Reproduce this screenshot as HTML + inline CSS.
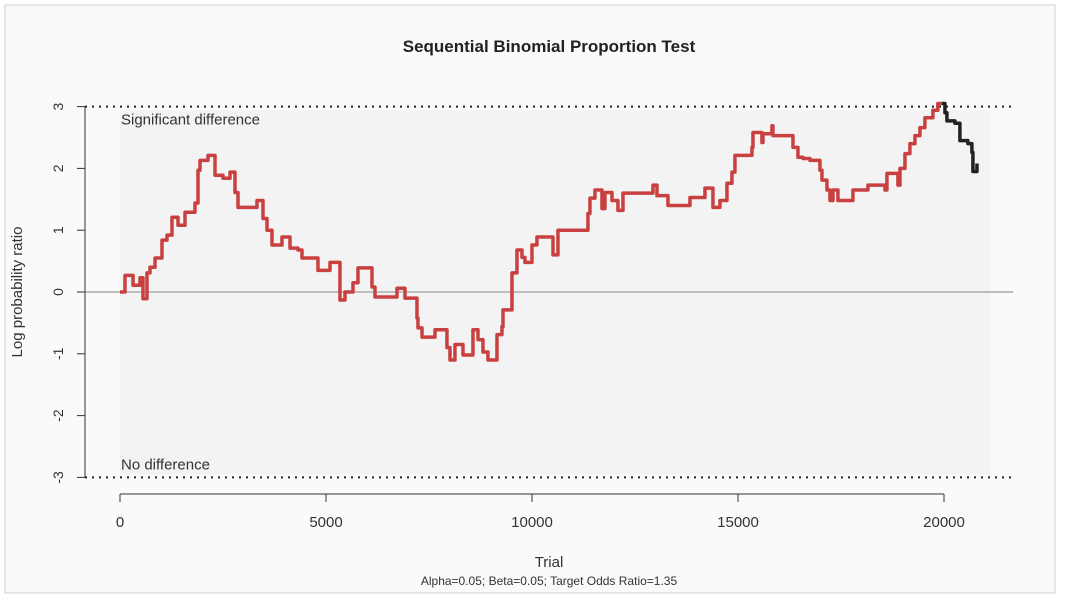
<!DOCTYPE html>
<html><head><meta charset="utf-8"><style>
body{margin:0;background:#fff;font-family:"Liberation Sans",sans-serif;}
svg{display:block}
</style></head><body>
<svg width="1068" height="606" viewBox="0 0 1068 606">
<rect x="0" y="0" width="1068" height="606" fill="#ffffff"/>
<rect x="5" y="5" width="1050" height="588" fill="#fafafa" stroke="#cfcfcf"/>
<text x="549" y="52" text-anchor="middle" font-size="17" font-weight="bold" fill="#222">Sequential Binomial Proportion Test</text>
<g id="plot"></g>
<text x="549" y="567" text-anchor="middle" font-size="15" fill="#333">Trial</text>
<text x="549" y="585" text-anchor="middle" font-size="12" fill="#333">Alpha=0.05; Beta=0.05; Target Odds Ratio=1.35</text>
<text transform="translate(22,292) rotate(-90)" text-anchor="middle" font-size="15" fill="#333">Log probability ratio</text>
</svg>
<script>
const xTicks=[0,5000,10000,15000,20000];
const yTicks=[-3,-2,-1,0,1,2,3];
const upperBound=3.0, lowerBound=-3.0;
const redTrials=[0,97,121,316,485,558,655,728,850,1019,1141,1262,1408,1578,1820,1893,1942,2136,2306,2500,2670,2791,2864,3107,3325,3471,3568,3689,3932,4126,4320,4417,4684,4805,5097,5339,5461,5655,5776,5898,6116,6189,6723,6747,6917,7208,7232,7330,7645,7936,8009,8130,8325,8567,8689,8810,8931,9150,9271,9296,9514,9635,9757,9829,9902,9999,10120,10436,10509,10630,11358,11407,11528,11698,11771,11941,12013,12086,12208,12936,13033,13300,13518,13834,14198,14392,14562,14732,14853,14926,14999,15339,15363,15581,15606,15824,15848,15970,16334,16455,16576,16746,16989,17038,17159,17232,17305,17426,17790,18154,18567,18615,18882,18931,19052,19173,19295,19416,19537,19731,19850,19950];
const redValues=[0,0,0.27,0.11,0.23,-0.11,0.31,0.40,0.55,0.84,0.92,1.21,1.08,1.29,1.44,1.97,2.13,2.21,1.89,1.84,1.94,1.61,1.37,1.37,1.48,1.19,1.0,0.76,0.89,0.71,0.68,0.55,0.55,0.35,0.48,-0.13,0,0.15,0.39,0.39,0.08,-0.08,0.06,0.06,-0.10,-0.42,-0.58,-0.73,-0.61,-0.90,-1.10,-0.85,-1.02,-0.61,-0.77,-0.97,-1.10,-0.69,-0.56,-0.29,0.31,0.68,0.56,0.48,0.48,0.76,0.89,0.89,0.60,1.0,1.27,1.52,1.65,1.35,1.61,1.48,1.48,1.32,1.60,1.73,1.56,1.40,1.40,1.53,1.68,1.37,1.48,1.76,1.94,2.21,2.21,2.34,2.58,2.42,2.56,2.69,2.53,2.53,2.34,2.18,2.16,2.13,1.97,1.81,1.65,1.48,1.65,1.48,1.65,1.73,1.65,1.92,1.73,2.0,2.24,2.40,2.53,2.66,2.82,2.94,3.05];
const blackTrials=[19950,20023,20071,20265,20386,20580,20677,20702,20800];
const blackValues=[3.05,2.90,2.77,2.73,2.45,2.40,2.26,1.95,2.08];
const NS='http://www.w3.org/2000/svg';
const X0=120,X1=944,Y0=292,YS=61.8;
function sx(t){return X0+(t-0)*(X1-X0)/20000;}
function sy(v){return Y0-v*YS;}
const g=document.getElementById('plot');
function mk(tag,attrs){const e=document.createElementNS(NS,tag);for(const k in attrs)e.setAttribute(k,attrs[k]);g.appendChild(e);return e;}
let e;
e=mk('rect',{x:sx(0),y:sy(upperBound)+4,width:sx(20800)+14-sx(0),height:sy(lowerBound)-sy(upperBound)-7,fill:'#f3f3f3'});


e=mk('line',{x1:85,x2:1013,y1:sy(0),y2:sy(0),stroke:'#bdbdbd','stroke-width':2});


[upperBound,lowerBound].forEach((b,i)=>{
e=mk('line',{x1:85,x2:1013,y1:sy(b),y2:sy(b),stroke:'#222','stroke-width':2,'stroke-dasharray':'2 5'});


});
e=mk('text',{x:121,y:sy(upperBound)+18,'font-size':15,fill:'#333'});e.textContent='Significant difference';


e=mk('text',{x:121,y:sy(lowerBound)-8,'font-size':15,fill:'#333'});e.textContent='No difference';


e=mk('line',{x1:85,x2:85,y1:sy(3),y2:sy(-3),stroke:'#333'});


yTicks.forEach(v=>{
e=mk('line',{x1:77,x2:85,y1:sy(v),y2:sy(v),stroke:'#333'});


e=mk('text',{transform:`translate(63,${sy(v)}) rotate(-90)`,'text-anchor':'middle','font-size':14,fill:'#333'});e.textContent=v;


});
e=mk('line',{x1:sx(0),x2:sx(20000),y1:494,y2:494,stroke:'#333'});


xTicks.forEach(t=>{
e=mk('line',{x1:sx(t),x2:sx(t),y1:494,y2:502,stroke:'#333'});


e=mk('text',{x:sx(t),y:527,'text-anchor':'middle','font-size':15,fill:'#333'});e.textContent=t;


});
function stepPath(ts,vs){let d='M'+sx(ts[0])+','+sy(vs[0]);for(let i=1;i<ts.length;i++){d+=' H'+sx(ts[i])+' V'+sy(vs[i]);}return d;}
e=mk('path',{d:stepPath(redTrials,redValues),fill:'none',stroke:'#c94040','stroke-width':3.5,'stroke-linejoin':'round'});


e=mk('path',{d:stepPath(blackTrials,blackValues),fill:'none',stroke:'#222','stroke-width':3.5,'stroke-linejoin':'round'});


</script>
</body></html>
